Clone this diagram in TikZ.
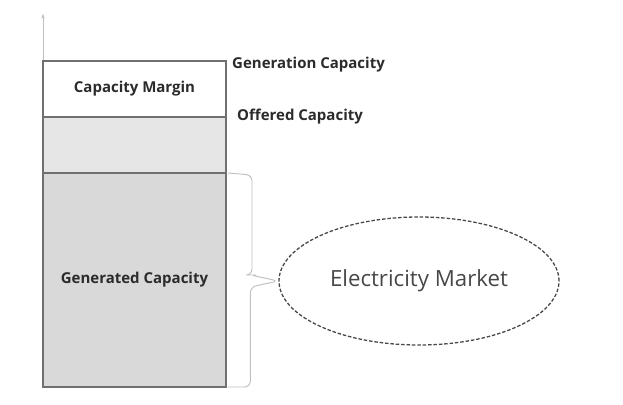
\documentclass[tikz,border=0pt]{standalone}
\usepackage{fontspec}
\setmainfont{Open Sans}
\usepackage{tikz}
\usetikzlibrary{positioning,shapes.geometric,arrows.meta}
\definecolor{boxline}{HTML}{707070}
\definecolor{lightfill}{HTML}{E6E6E6}
\definecolor{darkfill}{HTML}{D9D9D9}
\definecolor{labeltext}{HTML}{2B2B2B}

\begin{document}
\begin{tikzpicture}[node distance=0cm,
  stack/.style={draw=boxline, line width=1pt, minimum width=5.49cm, outer sep=0pt,
    inner sep=0pt, font=\fontsize{12.8}{15}\selectfont\bfseries, text=labeltext},
  sidelabel/.style={anchor=west, inner sep=0pt, font=\fontsize{12.8}{15}\selectfont\bfseries, text=labeltext}]
\useasboundingbox (0,0) rectangle (18.69,-12.15);
% vertical axis
\coordinate (base) at (1.29,-11.64);
\coordinate (top) at (1.29,-0.42);
\draw[black!25, -{Stealth[length=4pt,width=3pt]}] (base) -- (top);
% capacity stack
\node[stack, minimum height=1.68cm] (margin) at (4.035,-2.67) {Capacity Margin};
\node[stack, minimum height=1.68cm, fill=lightfill, below=of margin] (offered) {};
\node[stack, minimum height=6.42cm, fill=darkfill, below=of offered] (generated) {Generated Capacity};
\node[sidelabel] (gencap) at (6.96,-1.95) {Generation Capacity};
\node[sidelabel] (offcap) at (7.11,-3.50) {Offered Capacity};
% market
\node[draw=black!72, dash pattern=on 3pt off 1.6pt, line width=1.1pt, ellipse, minimum width=8.4cm,
  minimum height=3.84cm, font=\fontsize{19}{22}\selectfont, text=black!72] (market) at (12.57,-8.43) {Electricity Market};
% brace
\draw[black!25, line width=0.8pt, rounded corners=5pt]
  ([xshift=0.06cm]generated.north east) -- ++(0.72,-0.06)
  |- ([xshift=-0.84cm,yshift=0.18cm]market.west) -- (market.west)
  -- ([xshift=-0.84cm,yshift=-0.18cm]market.west)
  |- ([xshift=0.06cm]generated.south east);
\end{tikzpicture}
\end{document}
